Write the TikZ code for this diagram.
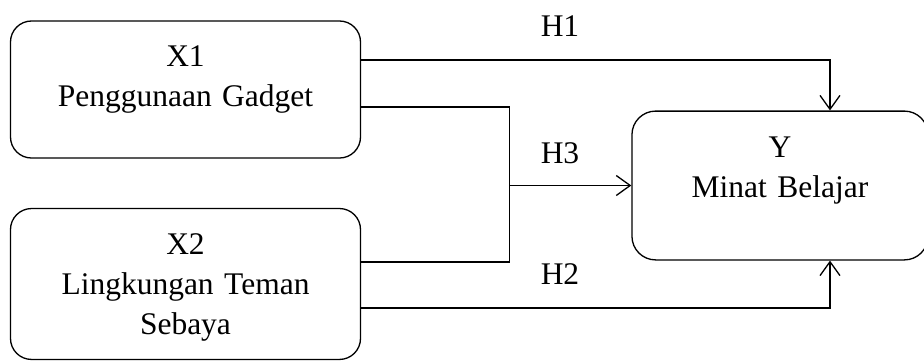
\documentclass[tikz,border=0pt]{standalone}
\usepackage{fontspec}
\setmainfont{Liberation Serif}
\usetikzlibrary{calc,positioning,arrows.meta}
\tikzset{
     var node/.style={draw, rounded corners=8pt, align=center, inner sep=0pt, line width=0.5pt,
                      text width=133.35pt, text height=17.5pt},
     pathedge/.style = {black, line width=0.5pt, -{Straight Barb[length=5.3pt,width=7.6pt]}},
     plainedge/.style = {black, line width=0.5pt},
     hyp/.style = {anchor=base},
    }
\begin{document}
\begin{tikzpicture}[x=0.381pt, y=0.381pt, node distance=74.1pt, on grid, font=\fontsize{12}{15.24}\selectfont]
            \useasboundingbox (0,0) rectangle (924,361);
            \node [var node, text depth=34.7pt] (x1) at (185.5,271.5) {X1\\Penggunaan Gadget};
            \node [var node, text depth=40pt]   (x2) [below=of x1]    {X2\\Lingkungan Teman\\Sebaya};
            \node [var node, rounded corners=9pt, text width=112.8pt, text depth=39.2pt]
                  (y) at (780,175.5) {Y\\Minat Belajar};

            \coordinate (junc) at ($(y.west)+(-122,0)$);

            \node [hyp] (h1) at (560,325) {H1};
            \node [hyp] (h3) at (560,198) {H3};
            \node [hyp] (h2) at (560,77)  {H2};

            \draw [pathedge]  ($(x1.east)+(0,29.5)$) -| ($(y.north)+(50,0)$);
            \draw [plainedge] ($(x1.east)+(0,-17.5)$) -| (junc);
            \draw [plainedge] ($(x2.east)+(0,22)$) -| (junc);
            \draw [pathedge]  (junc) -- (y.west);
            \draw [pathedge]  ($(x2.east)+(0,-24)$) -| ($(y.south)+(50,0)$);
      \end{tikzpicture}
\end{document}
